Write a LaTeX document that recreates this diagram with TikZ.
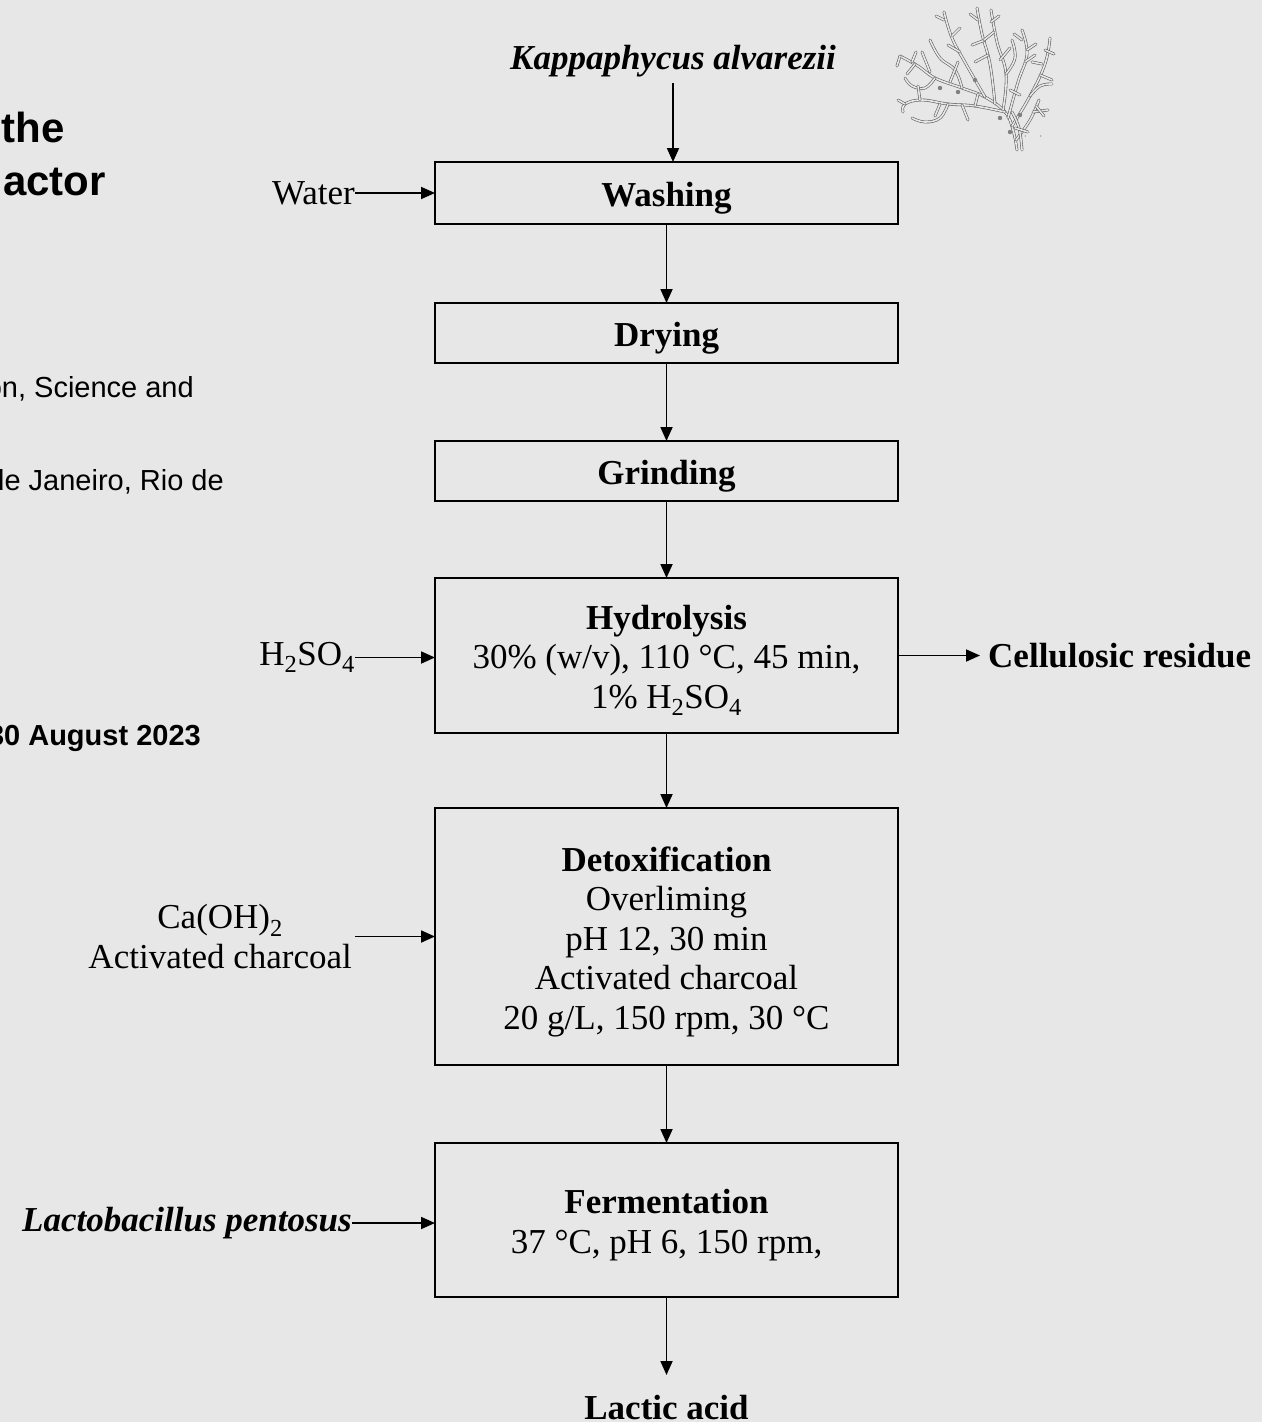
\documentclass[tikz,border=0pt]{standalone}
\usepackage{fontspec}
\setmainfont{Liberation Serif}
\setsansfont{Liberation Sans}
\usetikzlibrary{positioning,arrows.meta}

\definecolor{slidegray}{RGB}{231,231,231}
\definecolor{weedgray}{RGB}{95,95,95}

\tikzset{
  stage/.style={draw, line width=1.8pt, minimum width=463pt,
    inner sep=0pt, outer sep=0pt},
  stagetext/.style={align=center, inner sep=0pt, yshift=-5pt,
    font=\fontsize{35}{39.5}\selectfont},
  feed/.style={align=center, inner sep=0pt, font=\fontsize{35}{39.5}\selectfont},
  flow/.style={line width=1.8pt, -{Triangle[length=14pt,width=12pt]}},
  slidetitle/.style={inner sep=0pt, font=\fontsize{42}{48}\sffamily\bfseries},
  slidetext/.style={inner sep=0pt, font=\fontsize{29}{33}\sffamily},
  weed/.style={draw=weedgray, line width=0.6pt, double=slidegray,
    double distance=1.6pt, line cap=round},
}

\begin{document}
\begin{tikzpicture}[x=1pt, y=-1pt, node distance=78pt]
\fill[slidegray] (0,0) rectangle (1262,1422);
\clip (0,0) rectangle (1262,1422);

% slide text running in from the left
\node[slidetitle, anchor=east] (t1) at (65,127) {the};
\node[slidetitle, anchor=east] (t2) at (106,182) {actor};
\node[slidetext, anchor=east] (a1) at (194,389) {on, Science and};
\node[slidetext, anchor=east] (a2) at (224,482) {de Janeiro, Rio de};
\node[slidetext, font=\fontsize{29}{33}\sffamily\bfseries, anchor=east] (d1) at (201,738) {30 August 2023};

% process chain
\node[stage, minimum height=62pt, label={[stagetext]center:\bfseries Washing}] (wash) at (666.5,193) {};
\node[stage, minimum height=60pt, below=79pt of wash, label={[stagetext]center:\bfseries Drying}] (dry) {};
\node[stage, minimum height=60pt, below=78pt of dry, label={[stagetext]center:\bfseries Grinding}] (grind) {};
\node[stage, minimum height=155pt, below=77pt of grind,
  label={[stagetext]center:{\bfseries Hydrolysis\\30\% (w/v), 110 °C, 45 min,\\1\% H\textsubscript{2}SO\textsubscript{4}}}] (hyd) {};
\node[stage, minimum height=257pt, below=75pt of hyd,
  label={[stagetext]center:{\bfseries Detoxification\\Overliming\\pH 12, 30 min\\Activated charcoal\\20 g/L, 150 rpm, 30 °C}}] (detox) {};
\node[stage, minimum height=154pt, below=78pt of detox,
  label={[stagetext]center:{\bfseries Fermentation\\37 °C, pH 6, 150 rpm,}}] (ferm) {};

% feeds and products
\node[feed, font=\fontsize{35}{39.5}\selectfont\bfseries\itshape] (kap) at (673,61) {Kappaphycus alvarezii};
\node[feed, left=80pt of wash] (water) {Water};
\node[feed, left=80pt of hyd, yshift=-2pt] (acid) {H\textsubscript{2}SO\textsubscript{4}};
\node[feed, left=83pt of detox] (lime) {Ca(OH)\textsubscript{2}\\Activated charcoal};
\node[feed, font=\fontsize{35}{39.5}\selectfont\bfseries\itshape, left=83pt of ferm, yshift=-3pt] (lacto) {Lactobacillus pentosus};
\node[feed, font=\fontsize{35}{39.5}\selectfont\bfseries, right=90pt of hyd] (res) {Cellulosic residue};
\node[feed, font=\fontsize{35}{39.5}\selectfont\bfseries, below=98pt of ferm] (lactic) {Lactic acid};

\draw[flow, shorten <=6pt] (kap.south) -- (kap.south |- wash.north);
\draw[flow] (wash) -- (dry);
\draw[flow] (dry) -- (grind);
\draw[flow] (grind) -- (hyd);
\draw[flow] (hyd) -- (detox);
\draw[flow] (detox) -- (ferm);
\draw[flow, shorten >=20pt] (ferm) -- (lactic);
\draw[flow] (water) -- (wash);
\draw[flow] (acid.east) -- (acid.east -| hyd.west);
\draw[flow, shorten <=3pt] (lime) -- (detox);
\draw[flow] (lacto.east) -- (lacto.east -| ferm.west);
\draw[flow, shorten >=8pt] (hyd) -- (res);

% seaweed sketch
\draw[weed] plot[smooth, tension=0.7] coordinates {(1017,150) (1013,130) (1005,112) (985,97) (962,88) (935,78) (918,66) (900,56)};
\draw[weed] plot[smooth, tension=0.7] coordinates {(1005,112) (975,106) (948,104) (922,100) (905,104) (903,112)};
\draw[weed] plot[smooth, tension=0.7] coordinates {(985,97) (966,64) (952,38) (944,12)};
\draw[weed] plot[smooth, tension=0.7] coordinates {(995,104) (990,64) (982,34) (977,8)};
\draw[weed] plot[smooth, tension=0.7] coordinates {(1003,110) (1006,74) (997,42) (991,10)};
\draw[weed] plot[smooth, tension=0.7] coordinates {(1008,118) (1018,82) (1027,54) (1022,30)};
\draw[weed] plot[smooth, tension=0.7] coordinates {(1012,126) (1030,96) (1045,64) (1050,38)};
\draw[weed] plot[smooth, tension=0.7] coordinates {(1016,140) (1030,120) (1039,100)};
\draw[weed] plot[smooth, tension=0.7] coordinates {(1022,150) (1019,128) (1012,112)};
\draw[weed] plot[smooth, tension=0.7] coordinates {(962,88) (955,70) (940,58) (930,40)};
\draw[weed] plot[smooth, tension=0.7] coordinates {(935,78) (925,88) (912,86) (905,78)};
\draw[weed] plot[smooth, tension=0.7] coordinates {(948,104) (940,118) (925,122) (912,118)};
\draw[weed] plot[smooth, tension=0.7] coordinates {(1006,74) (1015,58) (1012,40)};
\draw[weed] plot[smooth, tension=0.7] coordinates {(1030,96) (1040,86) (1052,84)};
\foreach \ax/\ay/\bx/\by in {930/72/922/52, 950/82/958/62, 915/64/907/74, 940/104/935/116,
  920/100/918/86, 960/52/948/45, 972/45/985/40, 988/55/975/62, 1000/60/1010/48,
  1025/62/1035/55, 1040/75/1052/80, 1033/112/1048/110, 1026/136/1040/136, 962/105/968/120,
  944/20/936/16, 952/36/960/28, 978/20/970/14, 984/40/994/32, 991/22/999/16, 1022/40/1014/34,
  1027/50/1036/44, 1045/50/1054/54, 1042/64/1032/62, 900/56/897/66, 912/62/916/52,
  1020/95/1010/90, 1036/106/1044/116, 1015/128/1028/132, 975/106/978/94, 905/104/898/100}
  \draw[weed] (\ax,\ay) -- (\bx,\by);
\foreach \bx/\by in {958/92, 940/88, 1000/118, 1010/132, 975/80, 1020/115}
  \fill[weedgray!80] (\bx,\by) circle (2.2pt);
\end{tikzpicture}
\end{document}
